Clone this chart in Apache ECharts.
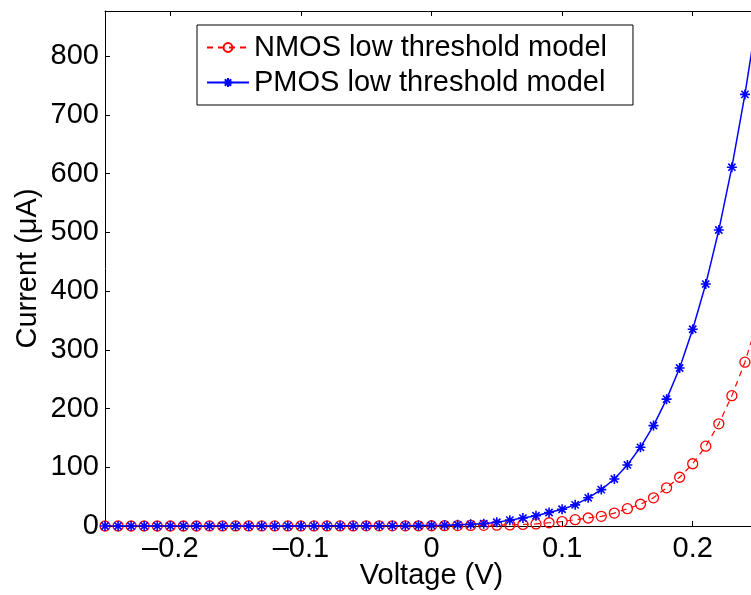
<!DOCTYPE html>
<html>
<head>
<meta charset="utf-8">
<script src="https://cdn.jsdelivr.net/npm/echarts@6/dist/echarts.min.js"></script>
<style>html,body{margin:0;padding:0;background:#fff;}#c{width:751px;height:595px;}</style>
</head>
<body>
<div id="c"></div>
<script>
var voltages = [-0.25,-0.24,-0.23,-0.22,-0.21,-0.20,-0.19,-0.18,-0.17,-0.16,-0.15,-0.14,-0.13,-0.12,-0.11,-0.10,-0.09,-0.08,-0.07,-0.06,-0.05,-0.04,-0.03,-0.02,-0.01,0.00,0.01,0.02,0.03,0.04,0.05,0.06,0.07,0.08,0.09,0.10,0.11,0.12,0.13,0.14,0.15,0.16,0.17,0.18,0.19,0.20,0.21,0.22,0.23,0.24,0.25];
var nmosCurrent = [0.02,0.02,0.02,0.03,0.03,0.03,0.04,0.04,0.05,0.05,0.06,0.07,0.08,0.09,0.1,0.11,0.13,0.15,0.18,0.2,0.23,0.26,0.3,0.34,0.37,0.4,0.5,0.7,0.9,1.1,1.4,1.9,2.6,3.5,5.5,7.5,10.8,13.6,16.5,22,29.5,37,48,65,83,106,136,174,222,279,352];
var pmosCurrent = [0.05,0.05,0.06,0.06,0.07,0.08,0.08,0.09,0.1,0.11,0.12,0.13,0.15,0.16,0.18,0.2,0.22,0.25,0.28,0.32,0.36,0.42,0.5,0.6,0.8,1.0,1.4,2.0,2.8,4.0,6.5,10,13.5,17.5,23,28.5,36,48,62,80,104,134,171,216,269,335,412,504,611,735,877];
var xMin = -0.25, xMax = 0.25;
var yMax = 877, yInterval = 100;
var seriesNames = ['NMOS low threshold model', 'PMOS low threshold model'];

function pairs(xs, ys){ return xs.map(function(x,i){ return [x, ys[i]]; }); }
var font = 'Liberation Sans, Arial, Helvetica, sans-serif';
var fs = 29;
var asterisk = 'path://M0,-5L0,5M-5,0L5,0M-3.6,-3.6L3.6,3.6M-3.6,3.6L3.6,-3.6';

var chart = echarts.init(document.getElementById('c'), null, {renderer:'canvas'});
chart.setOption({
  animation: false,
  backgroundColor: '#fff',
  textStyle: {fontFamily: font},
  grid: {left: 105, top: 11, right: -7, bottom: 69, containLabel: false, outerBoundsMode: 'none'},
  legend: {
    orient: 'vertical', left: 197, top: 25,
    data: seriesNames,
    backgroundColor: '#fff', borderColor: '#000', borderWidth: 1,
    padding: [8, 26, 8, 9], itemGap: 6,
    itemWidth: 42, itemHeight: 11,
    textStyle: {fontSize: fs, color: '#000', fontFamily: font, lineHeight: 29}
  },
  xAxis: [{
    type: 'value', min: xMin, max: xMax, splitNumber: 5,
    name: 'Voltage (V)', nameLocation: 'middle', nameGap: 35, nameMoveOverlap: false,
    nameTextStyle: {fontSize: fs, color: '#000', fontFamily: font},
    axisLine: {onZero: false, lineStyle: {color: '#000', width: 1}},
    axisTick: {inside: true, length: 5, lineStyle: {color: '#000'}},
    axisLabel: {fontSize: fs, color: '#000', fontFamily: font, margin: 8, showMinLabel: false, showMaxLabel: false,
      formatter: function(v){ return String(Math.round(v*10)/10).replace('-', '\u2013'); }},
    splitLine: {show: false}
  }, {
    type: 'value', position: 'top', min: xMin, max: xMax, splitNumber: 5,
    axisLine: {onZero: false, lineStyle: {color: '#000', width: 1}},
    axisTick: {inside: true, length: 5, lineStyle: {color: '#000'}},
    axisLabel: {show: false}, splitLine: {show: false}
  }],
  yAxis: [{
    type: 'value', min: 0, max: yMax, interval: yInterval,
    name: 'Current (\u03bcA)', nameLocation: 'middle', nameGap: 63, nameMoveOverlap: false,
    nameTextStyle: {fontSize: fs, color: '#000', fontFamily: font},
    axisLine: {show: true, onZero: false, lineStyle: {color: '#000', width: 1}},
    axisTick: {show: true, inside: true, length: 5, lineStyle: {color: '#000'}},
    axisLabel: {fontSize: fs, color: '#000', fontFamily: font, margin: 6, showMaxLabel: false},
    splitLine: {show: false}
  }],
  series: [{
    name: seriesNames[0], type: 'line',
    data: pairs(voltages, nmosCurrent),
    symbol: 'circle', symbolSize: 10, showAllSymbol: true,
    itemStyle: {color: 'rgba(255,255,255,0)', borderColor: '#ff0000', borderWidth: 1.3},
    lineStyle: {color: '#ff0000', width: 1.2, type: [6, 5]},
    z: 2
  }, {
    name: seriesNames[1], type: 'line',
    data: pairs(voltages, pmosCurrent),
    symbol: asterisk, symbolSize: 10, showAllSymbol: true,
    itemStyle: {color: '#0000ff', borderColor: '#0000ff', borderWidth: 1.6},
    lineStyle: {color: '#0000ff', width: 1.5},
    z: 3
  }]
});
</script>
</body>
</html>
